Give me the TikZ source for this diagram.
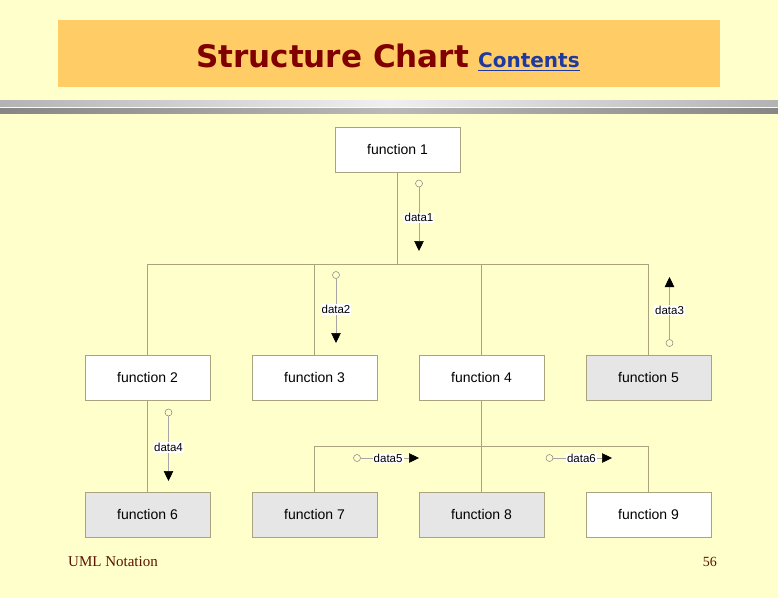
\documentclass[tikz,border=0pt]{standalone}
\usepackage{fontspec}
\setmainfont{Liberation Sans}
\newfontfamily\titlefont{DejaVu Sans}
\newfontfamily\footfont{Liberation Serif}
\usetikzlibrary{arrows.meta}
\definecolor{bg}{HTML}{FFFFCC}
\definecolor{barfill}{HTML}{FFCC66}
\definecolor{titlered}{HTML}{800000}
\definecolor{linkblue}{HTML}{1F3A9E}
\definecolor{edge}{HTML}{ABA37E}
\definecolor{boxgray}{HTML}{E6E6E6}
\definecolor{footred}{HTML}{5A1400}
\begin{document}
\begin{tikzpicture}[x=1pt,y=-1pt,
  fbox/.style={draw=edge, line width=0.6pt, minimum width=125pt, minimum height=45pt, inner sep=0pt, font=\fontsize{14}{16}\selectfont},
  wbox/.style={fbox, fill=white},
  gbox/.style={fbox, fill=boxgray},
  link/.style={draw=edge, line width=0.6pt},
  couple/.style={draw=gray!70, line width=0.5pt, -{Triangle[length=10pt,width=9.5pt,black]}},
  dot/.style={circle, draw=gray, line width=0.5pt, minimum size=7pt, inner sep=0pt, fill=bg},
  dlabel/.style={fill=white, inner sep=1pt, font=\fontsize{11.5}{13}\selectfont},
]
% background and bounding box
\fill[bg] (0,0) rectangle (778,598);
\useasboundingbox (0,0) rectangle (778,598);
% title bar
\fill[barfill] (58,20) rectangle (720,87);
\node[anchor=base west, inner sep=0pt, text=titlered, font=\titlefont\bfseries\fontsize{31}{37}\selectfont] (title) at (196,67) {Structure Chart};
\node[anchor=base west, inner sep=0pt, text=linkblue, font=\titlefont\bfseries\fontsize{20}{24}\selectfont] (contents) at (478,67) {Contents};
\draw[linkblue, line width=1.6pt] ([yshift=-3.5pt]contents.base west) -- ([yshift=-3.5pt]contents.base east);
% separator bars
\shade[left color=gray!60, right color=gray!60, middle color=gray!12] (0,100) rectangle (778,106.5);
\shade[left color=gray!95, right color=gray!95, middle color=gray!55] (0,108.5) rectangle (778,113.5);
% boxes
\node[wbox] (f1) at (397.5,149.5) {function 1};
\node[wbox] (f2) at (147.5,377.5) {function 2};
\node[wbox] (f3) at (314.5,377.5) {function 3};
\node[wbox] (f4) at (481.5,377.5) {function 4};
\node[gbox] (f5) at (648.5,377.5) {function 5};
\node[gbox] (f6) at (147.5,514.5) {function 6};
\node[gbox] (f7) at (314.5,514.5) {function 7};
\node[gbox] (f8) at (481.5,514.5) {function 8};
\node[wbox] (f9) at (648.5,514.5) {function 9};
% tree links
\coordinate (bus1) at (0,264);
\coordinate (bus2) at (0,446);
\draw[link] (f1.south) -- (f1.south |- bus1);
\draw[link] (f2.north |- bus1) -- (f5.north |- bus1);
\draw[link] (f2.north) -- (f2.north |- bus1);
\draw[link] (f3.north) -- (f3.north |- bus1);
\draw[link] (f4.north) -- (f4.north |- bus1);
\draw[link] (f5.north) -- (f5.north |- bus1);
\draw[link] (f2.south) -- (f6.north);
\draw[link] (f4.south) -- (f8.north);
\draw[link] (f7.north |- bus2) -- (f9.north |- bus2);
\draw[link] (f7.north) -- (f7.north |- bus2);
\draw[link] (f9.north) -- (f9.north |- bus2);
% data couples
\node[dot] (c1) at (419,183.5) {};
\coordinate (t1) at (419,251);
\draw[couple] (c1) -- (t1) node[pos=0.48, dlabel] {data1};
\node[dot] (c2) at (336,275) {};
\coordinate (t2) at (336,343);
\draw[couple] (c2) -- (t2) node[pos=0.48, dlabel] {data2};
\node[dot] (c3) at (669.5,343) {};
\coordinate (t3) at (669.5,277);
\draw[couple] (c3) -- (t3) node[pos=0.47, dlabel] {data3};
\node[dot] (c4) at (168.5,412.5) {};
\coordinate (t4) at (168.5,481);
\draw[couple] (c4) -- (t4) node[pos=0.48, dlabel] {data4};
\node[dot] (c5) at (357,458) {};
\coordinate (t5) at (419,458);
\draw[couple] (c5) -- (t5) node[pos=0.47, dlabel] {data5};
\node[dot] (c6) at (549.5,458) {};
\coordinate (t6) at (612,458);
\draw[couple] (c6) -- (t6) node[pos=0.48, dlabel] {data6};
% footer
\node[anchor=base west, inner sep=0pt, text=footred, font=\footfont\fontsize{15}{18}\selectfont] (foot) at (68,566) {UML Notation};
\node[anchor=base east, inner sep=0pt, text=footred, font=\footfont\fontsize{14}{17}\selectfont] (page) at (717,566) {56};
\end{tikzpicture}
\end{document}
